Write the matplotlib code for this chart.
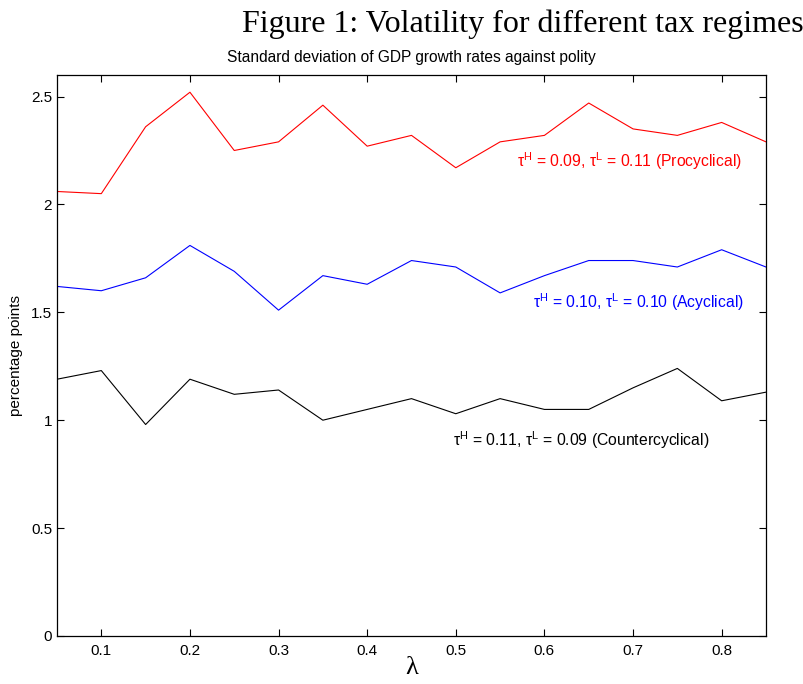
import matplotlib
matplotlib.use("Agg")
import matplotlib.pyplot as plt

# polity weight lambda
lam = [0.05, 0.10, 0.15, 0.20, 0.25, 0.30, 0.35, 0.40, 0.45,
       0.50, 0.55, 0.60, 0.65, 0.70, 0.75, 0.80, 0.85]

# std dev of GDP growth (percentage points)
procyclical = [2.06, 2.05, 2.36, 2.52, 2.25, 2.29, 2.46, 2.27, 2.32,
               2.17, 2.29, 2.32, 2.47, 2.35, 2.32, 2.38, 2.29]
acyclical = [1.62, 1.60, 1.66, 1.81, 1.69, 1.51, 1.67, 1.63, 1.74,
             1.71, 1.59, 1.67, 1.74, 1.74, 1.71, 1.79, 1.71]
countercyclical = [1.19, 1.23, 0.98, 1.19, 1.12, 1.14, 1.00, 1.05, 1.10,
                   1.03, 1.10, 1.05, 1.05, 1.15, 1.24, 1.09, 1.13]

labels = [
    r"τ$^\mathregular{H}$ = 0.09, τ$^\mathregular{L}$ = 0.11 (Procyclical)",
    r"τ$^\mathregular{H}$ = 0.10, τ$^\mathregular{L}$ = 0.10 (Acyclical)",
    r"τ$^\mathregular{H}$ = 0.11, τ$^\mathregular{L}$ = 0.09 (Countercyclical)",
]

plt.rcParams["font.family"] = ["Liberation Sans", "DejaVu Sans"]

fig = plt.figure(figsize=(8.04, 6.84), dpi=100)
ax = fig.add_axes([0.0709, 0.0702, 0.8818, 0.8202])

ax.plot(lam, procyclical, color="red", lw=0.8)
ax.plot(lam, acyclical, color="blue", lw=0.8)
ax.plot(lam, countercyclical, color="black", lw=0.8)

ax.text(0.569, 2.20, labels[0], color="red", fontsize=11.3, va="center")
ax.text(0.587, 1.548, labels[1], color="blue", fontsize=11.3, va="center")
ax.text(0.497, 0.907, labels[2], color="black", fontsize=11.3, va="center")

ax.set_xlim(0.05, 0.85)
ax.set_ylim(0, 2.6)
ax.set_xticks([0.1, 0.2, 0.3, 0.4, 0.5, 0.6, 0.7, 0.8])
ax.set_yticks([0, 0.5, 1, 1.5, 2, 2.5])
ax.set_yticklabels(["0", "0.5", "1", "1.5", "2", "2.5"])
ax.tick_params(direction="in", top=True, right=True, length=5, labelsize=11, width=0.8)
ax.tick_params(axis="x", pad=6)
for s in ax.spines.values():
    s.set_linewidth(0.9)

ax.set_title("Standard deviation of GDP growth rates against polity", fontsize=11.2, pad=9)
ax.set_ylabel("percentage points", fontsize=11, labelpad=6)
ax.set_xlabel("λ", fontsize=19, family=["Liberation Serif", "DejaVu Serif"], labelpad=-1)

fig.text(1.0, 0.964, "Figure 1: Volatility for different tax regimes",
         family=["Liberation Serif", "DejaVu Serif"], fontsize=23,
         ha="right", va="center")

fig.savefig("out.png", dpi=100)
